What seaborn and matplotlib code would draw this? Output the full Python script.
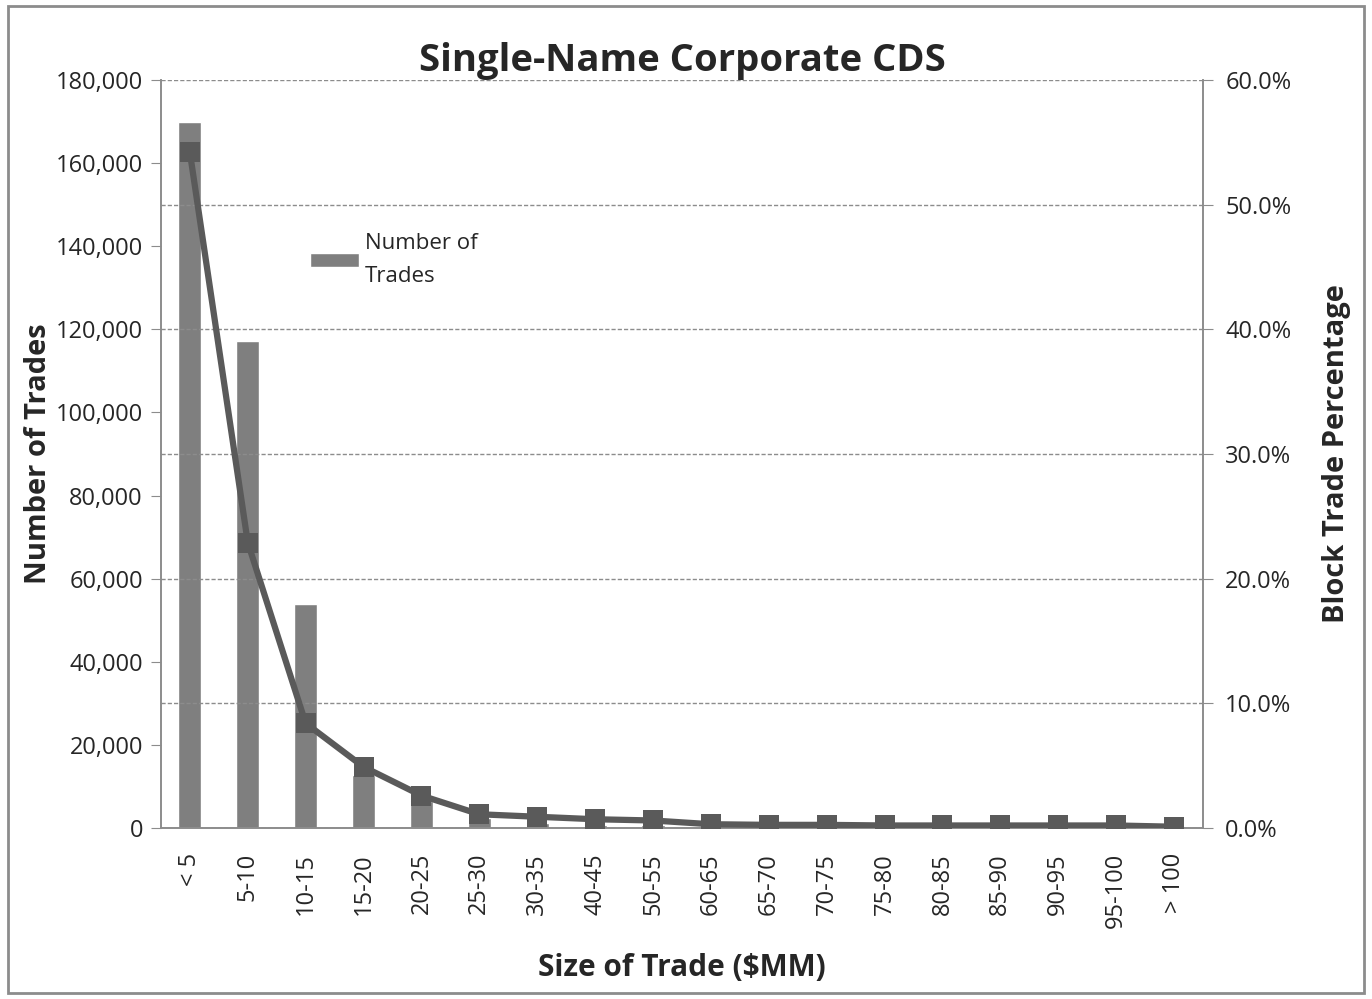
import numpy as np
import pandas as pd
import seaborn as sns
import matplotlib.pyplot as plt
from matplotlib.patches import Rectangle
from matplotlib.ticker import FuncFormatter, FixedLocator

# data
sizes = ["< 5", "5-10", "10-15", "15-20", "20-25", "25-30", "30-35", "40-45", "50-55",
         "60-65", "65-70", "70-75", "75-80", "80-85", "85-90", "90-95", "95-100", "> 100"]
num_trades = [170000, 117200, 53900, 12800, 6500, 2500, 1200, 700, 600,
              300, 250, 200, 200, 150, 150, 150, 150, 100]
block_pct = [54.2, 22.9, 8.4, 4.9, 2.6, 1.1, 0.9, 0.7, 0.6,
             0.3, 0.25, 0.25, 0.2, 0.2, 0.2, 0.2, 0.2, 0.1]

df = pd.DataFrame({"size": sizes, "trades": num_trades, "pct": block_pct})
df["pos"] = np.arange(len(df))

sns.set_style("white")
plt.rcParams["font.family"] = ["Open Sans", "DejaVu Sans"]

fig = plt.figure(figsize=(13.72, 9.99), dpi=100)
ax = fig.add_axes([0.1173, 0.1712, 0.7595, 0.7487])

bar_col = "#7f7f7f"
line_col = "#5a5a5a"
axis_col = "#8c8c8c"

# bars - number of trades
sns.barplot(data=df, x="size", y="trades", color=bar_col, width=0.4,
            saturation=1, ax=ax, label="Number of\nTrades", zorder=2)
ax.set_ylim(0, 180000)
ax.set_xlim(-0.5, len(df) - 0.5)
ax.yaxis.set_major_locator(FixedLocator(np.arange(0, 180001, 20000)))
ax.yaxis.set_major_formatter(FuncFormatter(lambda v, p: f"{int(v):,}"))

# line - block trade percentage on right axis
ax2 = ax.twinx()
sns.lineplot(data=df, x="pos", y="pct", ax=ax2, color=line_col, lw=4.5,
             marker="s", markersize=15, markeredgewidth=0, legend=False, zorder=3)
ax2.set_ylim(0, 60)
ax2.yaxis.set_major_locator(FixedLocator(np.arange(0, 61, 10)))
ax2.yaxis.set_major_formatter(FuncFormatter(lambda v, p: f"{v:.1f}%"))
ax2.grid(axis="y", color="#8c8c8c", linestyle=(0, (3, 1.5)), lw=1)
ax2.set_axisbelow(True)
ax2.set_xlim(-0.5, len(df) - 0.5)

# x ticks: labels at centres, tick marks between categories
ax.set_xticks(df["pos"])
ax.set_xticklabels(sizes, rotation=90)
ax.set_xticks(np.arange(-0.5, len(df) + 0.5, 1), minor=True)
ax.tick_params(axis="x", which="major", length=0, labelsize=17, pad=18)
ax.tick_params(axis="x", which="minor", length=7, color=axis_col, direction="out")
ax.tick_params(axis="y", length=7, color=axis_col, labelsize=17, pad=6, direction="out")
ax2.tick_params(axis="y", length=7, color=axis_col, labelsize=17, pad=9, direction="out")

for a in (ax, ax2):
    for s in a.spines.values():
        s.set_color(axis_col)
        s.set_linewidth(1.2)
    a.spines["top"].set_visible(False)

ax.set_xlabel("Size of Trade ($MM)", fontsize=21.5, fontweight="bold", labelpad=18)
ax.set_ylabel("Number of Trades", fontsize=21, fontweight="bold", labelpad=2)
ax2.set_ylabel("Block Trade Percentage", fontsize=21, fontweight="bold", labelpad=22)
ax2.set_xlabel("")
ax.set_title("Single-Name Corporate CDS", fontsize=27.5, fontweight="bold", pad=4)

leg = ax.legend(loc="upper left", bbox_to_anchor=(0.1235, 0.822), frameon=False,
                fontsize=16, handlelength=2.2, handleheight=0.6, handletextpad=0.3)
for t in leg.get_texts():
    t.set_linespacing(1.75)

fig.patches.append(Rectangle((0.006, 0.006), 0.988, 0.988, transform=fig.transFigure,
                             fill=False, edgecolor="#8c8c8c", lw=2))

fig.savefig("out.png", dpi=100)
